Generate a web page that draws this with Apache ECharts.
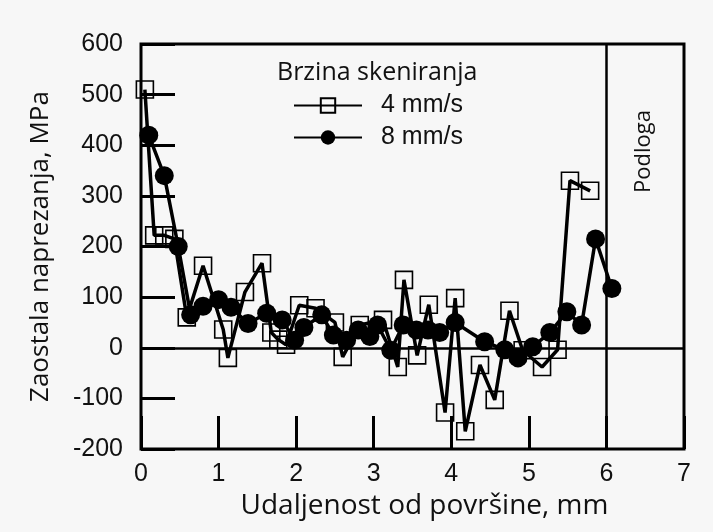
<!DOCTYPE html>
<html>
<head>
  <meta charset="utf-8">
  <script src="https://cdn.jsdelivr.net/npm/echarts@6/dist/echarts.min.js"></script>
</head>
<body style="margin:0;background:#f7f7f7">
  <div id="container" style="width:713px;height:532px"></div>
  <script>
    // 4 mm/s (prazni kvadrati)
    var xSlow = [0.05, 0.17, 0.3, 0.43, 0.59, 0.8, 1.06, 1.12, 1.34, 1.56, 1.68, 1.77, 1.87, 2.04, 2.25, 2.5, 2.6, 2.82, 3.12, 3.31, 3.39, 3.56, 3.71, 3.92, 4.05, 4.18, 4.37, 4.56, 4.75, 4.92, 5.17, 5.37, 5.53, 5.79];
    var ySlow = [510, 222, 222, 215, 60, 162, 36, -20, 110, 167, 30, 16, 6, 84, 78, 50, -18, 45, 55, -38, 134, -15, 85, -128, 98, -165, -34, -103, 73, -5, -38, -4, 330, 310];
    // 8 mm/s (puni krugovi)
    var xFast = [0.1, 0.3, 0.48, 0.64, 0.8, 1.0, 1.16, 1.38, 1.62, 1.82, 1.98, 2.1, 2.33, 2.48, 2.65, 2.8, 2.95, 3.05, 3.22, 3.38, 3.55, 3.7, 3.85, 4.05, 4.43, 4.69, 4.86, 5.05, 5.27, 5.49, 5.68, 5.86, 6.07];
    var yFast = [420, 340, 200, 65, 82, 95, 80, 48, 68, 55, 15, 40, 65, 25, 15, 35, 22, 45, -5, 45, 35, 35, 30, 50, 12, -4, -20, 2, 30, 71, 45, 215, 117];

    var seriesNames = ['4 mm/s', '8 mm/s'];
    var legendTitle = 'Brzina skeniranja';
    var xName = 'Udaljenost od površine, mm';
    var yName = 'Zaostala naprezanja, MPa';
    var regionLabel = 'Podloga';

    function pairs(xs, ys) {
      return xs.map(function (x, i) { return [x, ys[i]]; });
    }

    var chart = echarts.init(document.getElementById('container'));
    var sans = '"Open Sans", "Noto Sans", sans-serif';
    var tickFont = '"Liberation Sans", Arial, sans-serif';

    var option = {
      animation: false,
      backgroundColor: '#f7f7f7',
      title: {
        text: legendTitle,
        left: 272,
        top: 55,
        textStyle: { fontFamily: sans, fontSize: 25, fontWeight: 'normal', color: '#111' }
      },
      legend: {
        data: seriesNames,
        orient: 'vertical',
        left: 288,
        top: 88,
        itemWidth: 68,
        itemHeight: 18,
        itemGap: 7,
        textStyle: { fontFamily: tickFont, fontSize: 25, color: '#111', padding: [0, 0, 0, 14] }
      },
      grid: {
        left: 141, right: 29, top: 44, bottom: 83,
        show: true, borderColor: '#000', borderWidth: 3, backgroundColor: 'transparent'
      },
      xAxis: {
        type: 'value', min: 0, max: 7, interval: 1,
        name: xName, nameLocation: 'middle', nameGap: 43,
        nameTextStyle: { fontFamily: sans, fontSize: 28, color: '#111', padding: [0, 0, 0, 24] },
        axisLine: { show: false, onZero: false },
        axisTick: { show: true, inside: true, length: 33, lineStyle: { color: '#000', width: 3 } },
        axisLabel: { fontFamily: tickFont, fontSize: 25, color: '#111', margin: 13 },
        splitLine: { show: false }
      },
      yAxis: {
        type: 'value', min: -200, max: 600, interval: 100,
        name: yName, nameLocation: 'middle', nameGap: 87,
        nameTextStyle: { fontFamily: sans, fontSize: 26, color: '#111' },
        axisLine: { show: false, onZero: false },
        axisTick: { show: true, inside: true, length: 34, lineStyle: { color: '#000', width: 3 } },
        axisLabel: { fontFamily: tickFont, fontSize: 25, color: '#111', margin: 18 },
        splitLine: { show: false }
      },
      graphic: [{
        type: 'text',
        left: 633,
        top: 110,
        rotation: Math.PI / 2,
        style: { text: regionLabel, font: '22px "Open Sans", sans-serif', fill: '#111' }
      }],
      series: [
        {
          name: seriesNames[0],
          type: 'line',
          data: pairs(xSlow, ySlow),
          symbol: 'rect',
          symbolSize: 17,
          lineStyle: { color: '#000', width: 3.5 },
          itemStyle: { color: 'rgba(0,0,0,0)', borderColor: '#000', borderWidth: 1.6 },
          markLine: {
            silent: true,
            symbol: 'none',
            label: { show: false },
            lineStyle: { color: '#000', width: 2.5, type: 'solid' },
            data: [{ yAxis: 0 }, { xAxis: 6 }]
          }
        },
        {
          name: seriesNames[1],
          type: 'line',
          data: pairs(xFast, yFast),
          symbol: 'circle',
          symbolSize: 19,
          lineStyle: { color: '#000', width: 3.5 },
          itemStyle: { color: '#000' }
        }
      ]
    };

    chart.setOption(option);
  </script>
</body>
</html>
